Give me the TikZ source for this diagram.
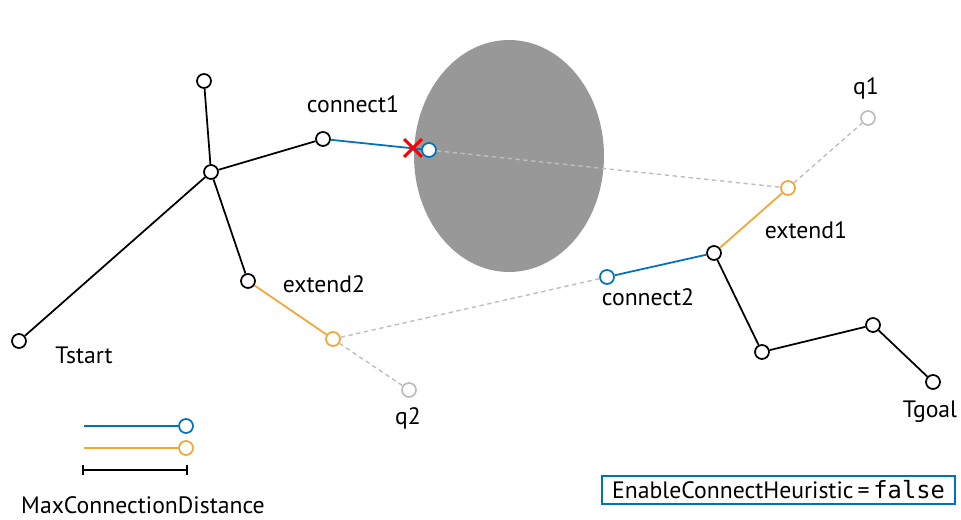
\documentclass[tikz,border=0pt]{standalone}
\usepackage{fontspec}
\setmainfont{PT Sans}
\setmonofont{DejaVu Sans Mono}
\usetikzlibrary{shapes.misc,arrows.meta}
\definecolor{cblue}{RGB}{0,114,189}
\definecolor{corange}{RGB}{243,166,54}
\definecolor{cgray}{RGB}{190,190,190}
\definecolor{cobst}{RGB}{152,152,152}

\begin{document}
\begin{tikzpicture}[x=0.02cm, y=-0.02cm, font=\fontsize{13.5}{16}\selectfont,
  vtx/.style={circle, draw, line width=1pt, fill=white, minimum size=0.28cm, inner sep=0pt},
  edge/.style={line width=1pt},
  probe/.style={cgray, dash pattern=on 2.5pt off 2pt, line width=0.8pt}]
  \useasboundingbox (0,0) rectangle (961,520);

  % Obstacle
  \fill[cobst] (509,156) ellipse (95 and 116);

  % Nodes (start tree)
  \node[vtx] (s0) at (19,341) {};
  \node[vtx] (s1) at (211,172) {};
  \node[vtx] (s2) at (204,81) {};
  \node[vtx] (s3) at (323,139) {};
  \node[vtx] (s4) at (248,281) {};
  \node[vtx, draw=cblue] (c1) at (429,150) {};
  \node[vtx, draw=corange] (e2) at (333,339) {};
  \node[vtx, draw=cgray] (q2) at (409,390) {};

  % Nodes (goal tree)
  \node[vtx] (g0) at (933,382) {};
  \node[vtx] (g1) at (873,325) {};
  \node[vtx] (g2) at (762,352) {};
  \node[vtx] (g3) at (714,253) {};
  \node[vtx, draw=cblue] (c2) at (607,277) {};
  \node[vtx, draw=corange] (e1) at (788,188) {};
  \node[vtx, draw=cgray] (q1) at (868,118) {};

  % Labels
  \node (connect1) at (353,104) {connect1};
  \node (extend2) at (324,284) {extend2};
  \node (Tstart) at (84,355) {Tstart};
  \node (q2lab) at (408,418) {q2};
  \node (q1lab) at (866,88) {q1};
  \node (extend1) at (806,230) {extend1};
  \node (connect2) at (648,297) {connect2};
  \node (Tgoal) at (930,412) {Tgoal};

  % Edges
  \draw[edge] (s0) -- (s1);
  \draw[edge] (s1) -- (s2);
  \draw[edge] (s1) -- (s3);
  \draw[edge] (s1) -- (s4);
  \draw[edge, cblue] (s3) -- (c1);
  \draw[edge, corange] (s4) -- (e2);
  \draw[edge] (g0) -- (g1);
  \draw[edge] (g1) -- (g2);
  \draw[edge] (g2) -- (g3);
  \draw[edge, cblue] (g3) -- (c2);
  \draw[edge, corange] (g3) -- (e1);

  % Probes
  \draw[probe] (c1) -- (e1);
  \draw[probe] (e1) -- (q1);
  \draw[probe] (e2) -- (c2);
  \draw[probe] (e2) -- (q2);

  % Collision mark
  \node[cross out, draw=red, line width=1.7pt, minimum size=0.3cm, inner sep=0pt] (hit) at (413,148) {};

  % Legend
  \coordinate (lb) at (84,426);
  \coordinate (lo) at (84,448);
  \node[vtx, draw=cblue] (lbend) at (186,426) {};
  \node[vtx, draw=corange] (loend) at (186,448) {};
  \draw[edge, cblue] (lb) -- (lbend);
  \draw[edge, corange] (lo) -- (loend);
  \coordinate (m1) at (82,470);
  \coordinate (m2) at (188,470);
  \draw[edge, {Bar[width=6pt]}-{Bar[width=6pt]}] (m1) -- (m2);
  \node[inner sep=1pt] (maxd) at (143,505) {MaxConnectionDistance};

  % Setting box
  \node[draw=cblue, line width=0.9pt, minimum width=7.06cm, minimum height=0.56cm, inner sep=2pt] (flag) at (778.5,490) {EnableConnectHeuristic\,=\,\texttt{false}};
\end{tikzpicture}
\end{document}
